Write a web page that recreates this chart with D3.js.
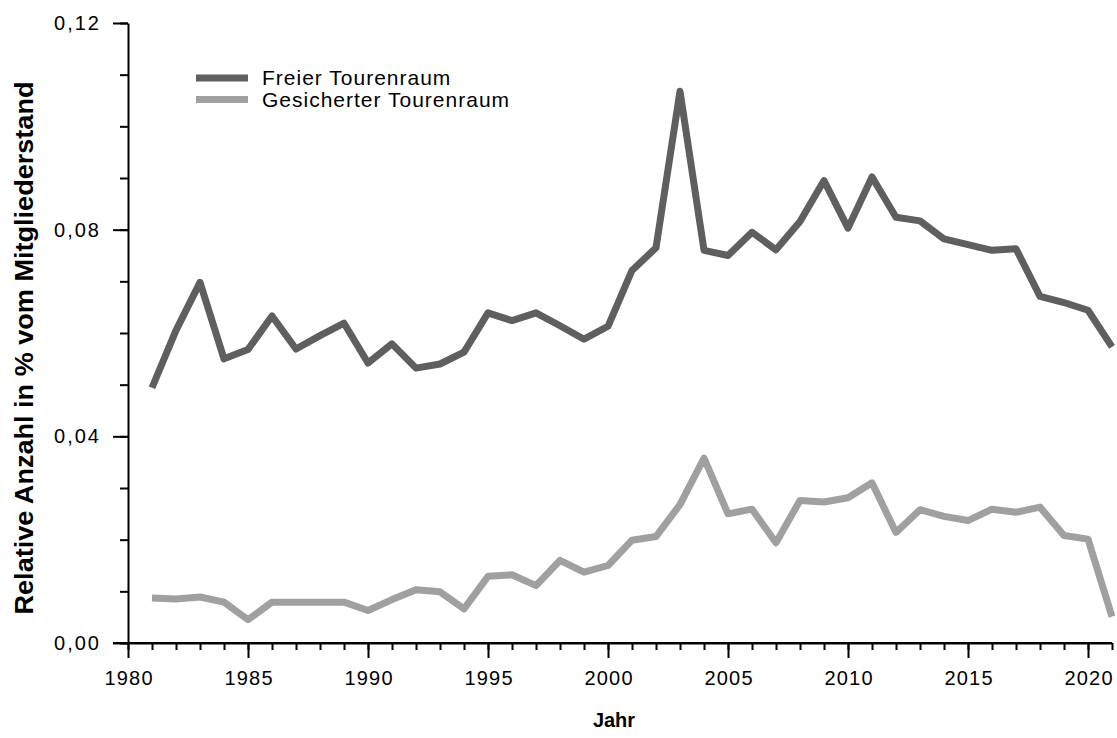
<!DOCTYPE html>
<html>
<head>
<meta charset="utf-8">
<script src="https://cdn.jsdelivr.net/npm/d3@7"></script>
<style>
  body { margin: 0; background: #fff; }
  svg { display: block; font-family: "Liberation Sans", Arial, sans-serif; }
</style>
</head>
<body>
<div id="chart"></div>
<script>
// years and values
var years = d3.range(1981, 2022);
var freier = [0.0494, 0.0605, 0.0698, 0.0550, 0.0568, 0.0633, 0.0569, 0.0595, 0.0619, 0.0542,
              0.0579, 0.0532, 0.0540, 0.0563, 0.0639, 0.0624, 0.0639, 0.0614, 0.0588, 0.0613,
              0.0721, 0.0765, 0.1068, 0.0760, 0.0750, 0.0795, 0.0761, 0.0816, 0.0895, 0.0803,
              0.0902, 0.0824, 0.0817, 0.0782, 0.0771, 0.0760, 0.0763, 0.0671, 0.0659, 0.0644,
              0.0573];
var gesichert = [0.0087, 0.0085, 0.0089, 0.0079, 0.0045, 0.0079, 0.0079, 0.0079, 0.0079, 0.0063,
                 0.0084, 0.0103, 0.0099, 0.0066, 0.0129, 0.0132, 0.0111, 0.0160, 0.0137, 0.0150,
                 0.0199, 0.0206, 0.0268, 0.0358, 0.0250, 0.0259, 0.0194, 0.0276, 0.0273, 0.0281,
                 0.0310, 0.0214, 0.0258, 0.0245, 0.0237, 0.0259, 0.0253, 0.0263, 0.0208, 0.0201,
                 0.0051];
var seriesNames = ["Freier Tourenraum", "Gesicherter Tourenraum"];
var seriesColours = ["#5f5f5f", "#a0a0a0"];
var yTicks = [0, 0.04, 0.08, 0.12];
var xTicks = [1980, 1985, 1990, 1995, 2000, 2005, 2010, 2015, 2020];

var W = 1117, H = 738;
var margin = {top: 23, right: 5, bottom: 95, left: 128};

var svg = d3.select("#chart").append("svg")
  .attr("width", W)
  .attr("height", H);

var x = d3.scaleLinear().domain([1980, 2021]).range([margin.left, W - margin.right]);
var y = d3.scaleLinear().domain([0, 0.12]).range([H - margin.bottom, margin.top]);

var fmt = function(d) { return d3.format(".2f")(d).replace(".", ","); };

// minor ticks
var yMinor = d3.axisLeft(y).tickValues(d3.range(0, 0.1201, 0.01)).tickSize(8).tickFormat("");
var xMinor = d3.axisBottom(x).tickValues(d3.range(1980, 2022)).tickSize(7).tickFormat("");

svg.append("g").attr("transform", "translate(" + margin.left + ",0)").call(yMinor)
  .call(function(g) { g.select(".domain").remove(); });
svg.append("g").attr("transform", "translate(0," + y(0) + ")").call(xMinor)
  .call(function(g) { g.select(".domain").remove(); });

var yAxis = d3.axisLeft(y).tickValues(yTicks).tickSize(15).tickSizeOuter(0).tickPadding(14).tickFormat(fmt);
var xAxis = d3.axisBottom(x).tickValues(xTicks).tickSize(15).tickSizeOuter(0).tickPadding(13).tickFormat(d3.format("d"));

var gy = svg.append("g").attr("transform", "translate(" + margin.left + ",0)").call(yAxis);
var gx = svg.append("g").attr("transform", "translate(0," + y(0) + ")").call(xAxis);

svg.selectAll(".tick line, .domain").attr("stroke", "#000").attr("stroke-width", 2);
gy.selectAll("text").attr("font-size", 20).attr("letter-spacing", "2px").attr("dx", "2px")
  .attr("fill", "#000").attr("font-family", "Liberation Sans, Arial, sans-serif");
gx.selectAll("text").attr("font-size", 20).attr("letter-spacing", "1.2px").attr("dx", "0.6px")
  .attr("fill", "#000").attr("font-family", "Liberation Sans, Arial, sans-serif");

// x axis line extends a bit to the left of y axis
svg.append("line")
  .attr("x1", margin.left - 15).attr("x2", W - margin.right)
  .attr("y1", y(0)).attr("y2", y(0))
  .attr("stroke", "#000").attr("stroke-width", 2);

var line = d3.line()
  .x(function(d, i) { return x(years[i]); })
  .y(function(d) { return y(d); });

[freier, gesichert].forEach(function(s, k) {
  svg.append("path")
    .datum(s)
    .attr("fill", "none")
    .attr("stroke", seriesColours[k])
    .attr("stroke-width", 7)
    .attr("stroke-linejoin", "round")
    .attr("d", line);
});

// legend
var legend = svg.append("g").attr("transform", "translate(196,78)");
seriesNames.forEach(function(name, i) {
  var g = legend.append("g").attr("transform", "translate(0," + (i * 21.6) + ")");
  g.append("line").attr("x1", 0).attr("x2", 52).attr("y1", 0).attr("y2", 0)
    .attr("stroke", seriesColours[i]).attr("stroke-width", 7);
  g.append("text").attr("x", 66).attr("y", 0).attr("dy", "0.35em")
    .attr("font-size", 21).attr("letter-spacing", "1px")
    .attr("fill", "#000").text(name);
});

// axis titles
svg.append("text")
  .attr("x", 614).attr("y", 727)
  .attr("text-anchor", "middle")
  .attr("font-size", 20).attr("font-weight", "bold")
  .text("Jahr");

svg.append("text")
  .attr("transform", "translate(33,348) rotate(-90)")
  .attr("text-anchor", "middle")
  .attr("font-size", 26).attr("font-weight", "bold")
  .attr("textLength", 533).attr("lengthAdjust", "spacingAndGlyphs")
  .text("Relative Anzahl in % vom Mitgliederstand");
</script>
</body>
</html>
